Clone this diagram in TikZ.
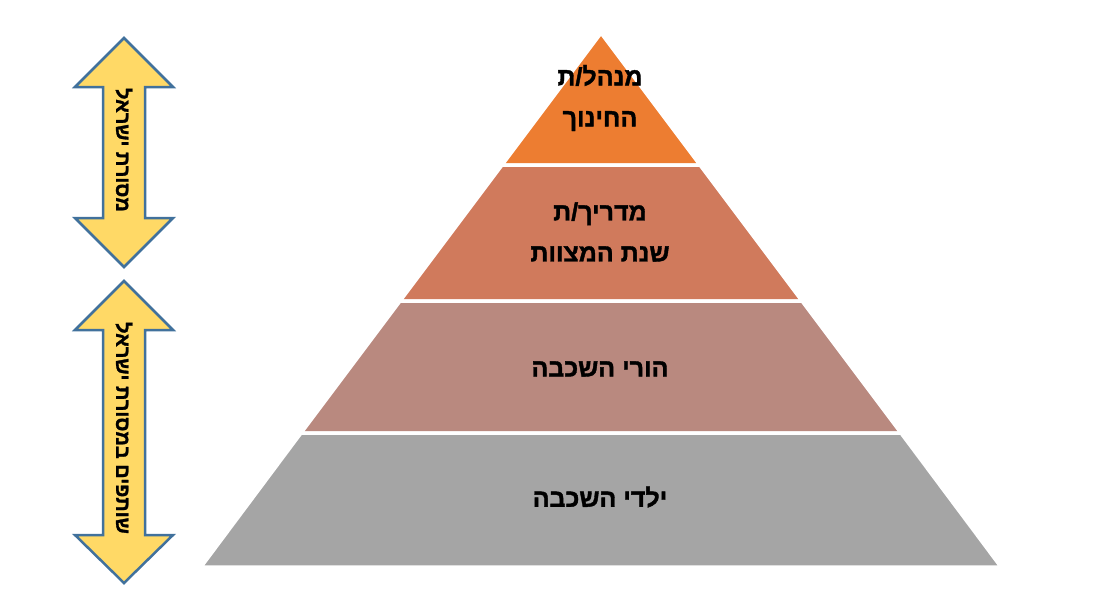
\documentclass[tikz,border=0pt]{standalone}
\usepackage{fontspec}
\newfontfamily\hebfont[Script=Hebrew,BoldFont={Liberation Sans Bold},BoldFeatures={FakeBold=1.5}]{Liberation Sans}
\TeXXeTstate=1
\definecolor{topcol}{HTML}{ED7D31}
\definecolor{guidecol}{HTML}{D07A5C}
\definecolor{parentcol}{HTML}{B9897F}
\definecolor{kidcol}{HTML}{A5A5A5}
\definecolor{arrowfill}{HTML}{FFD966}
\definecolor{arrowline}{HTML}{41719C}
\begin{document}
\begin{tikzpicture}[x=1pt,y=-1pt,
    layer/.style={draw=white,line width=3.5pt},
    lbl/.style={font=\hebfont\bfseries\fontsize{25}{41}\selectfont,align=center},
    updown/.style={fill=arrowfill,draw=arrowline,line width=2.5pt},
    albl/.style={font=\hebfont\bfseries\fontsize{20}{20}\selectfont,rotate=-90}]
  \useasboundingbox (0,0) rectangle (1111,613);

  % pyramid
  \filldraw[fill=topcol,layer] (601,33) -- (700,165) -- (502,165) -- cycle;
  \filldraw[fill=guidecol,layer] (502,165) -- (700,165) -- (802,301) -- (400,301) -- cycle;
  \filldraw[fill=parentcol,layer] (400,301) -- (802,301) -- (901,433) -- (301,433) -- cycle;
  \filldraw[fill=kidcol,layer] (301,433) -- (901,433) -- (1001,567) -- (201,567) -- cycle;

  \node[lbl] (principal) at (600,98) {\beginR מנהל/ת\endR\\\beginR החינוך\endR};
  \node[lbl] (guide) at (600,232) {\beginR מדריך/ת\endR\\\beginR שנת המצוות\endR};
  \node[lbl] (parents) at (600,369) {\beginR הורי השכבה\endR};
  \node[lbl] (kids) at (600,497) {\beginR ילדי השכבה\endR};

  % arrows
  \draw[updown] (124,38) -- (173,87) -- (145,87) -- (145,218) -- (173,218) -- (124,267)
    -- (75,218) -- (103,218) -- (103,87) -- (75,87) -- cycle;
  \draw[updown] (124,281) -- (173,330) -- (145,330) -- (145,535) -- (173,535) -- (124,583)
    -- (75,535) -- (103,535) -- (103,330) -- (75,330) -- cycle;

  \node[albl] (upper) at (124,150) {\beginR מסורת ישראל\endR};
  \node[albl] (lower) at (124,428) {\beginR שותפים במסורת ישראל\endR};
\end{tikzpicture}
\end{document}
